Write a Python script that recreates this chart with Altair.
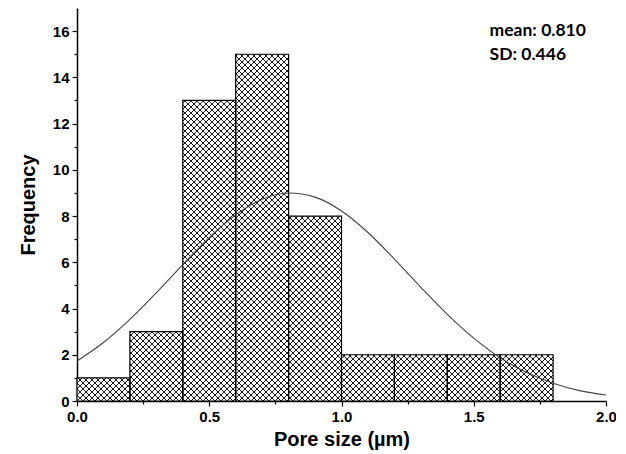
import altair as alt
import pandas as pd

# ---- data ----
bin_start = [0.0, 0.2, 0.4, 0.6, 0.8, 1.0, 1.2, 1.4, 1.6]
bin_width = 0.2
counts = [1, 3, 13, 15, 8, 2, 2, 2, 2]

curve_x = [0.0, 0.1, 0.2, 0.3, 0.4, 0.5, 0.6, 0.7, 0.8, 0.9, 1.0,
           1.1, 1.2, 1.3, 1.4, 1.5, 1.6, 1.7, 1.8, 1.9, 2.0]
curve_y = [1.73, 2.53, 3.53, 4.68, 5.90, 7.07, 8.05, 8.73, 9.00, 8.82, 8.22,
           7.29, 6.14, 4.92, 3.75, 2.72, 1.87, 1.23, 0.77, 0.45, 0.26]

stats_text = ["mean: 0.810", "SD: 0.446"]

x_major = [0.0, 0.5, 1.0, 1.5, 2.0]
x_minor = [0.25, 0.75, 1.25, 1.75]
y_major = [0, 2, 4, 6, 8, 10, 12, 14, 16]
y_minor = [1, 3, 5, 7, 9, 11, 13, 15]

X_DOMAIN = [0, 2.0]
Y_DOMAIN = [0, 17]
W, H = 529, 393

bars = pd.DataFrame({
    "x0": bin_start,
    "x1": [b + bin_width for b in bin_start],
    "count": counts,
})
curve = pd.DataFrame({"x": curve_x, "y": curve_y})
stats = pd.DataFrame({"x": [1.56, 1.56], "y": [16.0, 14.95], "t": stats_text})

# ---- cross-hatch fill (decoration derived from the bars) ----
sx = W / (X_DOMAIN[1] - X_DOMAIN[0])
sy = H / (Y_DOMAIN[1] - Y_DOMAIN[0])
period = 6.0
segs = []
for x0, x1, c in zip(bars["x0"], bars["x1"], bars["count"]):
    px0, px1, h = x0 * sx, x1 * sx, c * sy
    # slope +1 family: py = px + k
    k = -period * int(px1 / period + 1)
    while k <= h - px0:
        lo, hi = max(px0, -k), min(px1, h - k)
        if hi > lo:
            segs.append((lo / sx, (lo + k) / sy, hi / sx, (hi + k) / sy))
        k += period
    # slope -1 family: py = k - px
    k = 0.0
    while k <= px1 + h + period:
        lo, hi = max(px0, k - h), min(px1, k)
        if hi > lo:
            segs.append((lo / sx, (k - lo) / sy, hi / sx, (k - hi) / sy))
        k += period
hatch = pd.DataFrame(segs, columns=["xa", "ya", "xb", "yb"])

xs = alt.Scale(domain=X_DOMAIN, nice=False, zero=False)
ys = alt.Scale(domain=Y_DOMAIN, nice=False)

FONT = "Liberation Sans"

x_axis = alt.Axis(values=x_major, format=".1f", title="Pore size (µm)",
                  labelFont=FONT, labelFontSize=15, labelFontWeight="bold",
                  labelColor="black", titleFont=FONT, titleFontSize=20,
                  titleFontWeight="bold", titleColor="black", titlePadding=5,
                  tickSize=5, tickWidth=1.2, tickColor="black",
                  domainColor="black", domainWidth=1.5, grid=False,
                  labelPadding=3, labelFlush=False, orient="bottom")
y_axis = alt.Axis(values=y_major, format="d", title="Frequency",
                  labelFont=FONT, labelFontSize=15, labelFontWeight="bold",
                  labelColor="black", titleFont=FONT, titleFontSize=20,
                  titleFontWeight="bold", titleColor="black", titlePadding=14,
                  tickSize=5, tickWidth=1.2, tickColor="black",
                  domainColor="black", domainWidth=1.5, grid=False,
                  labelPadding=3, orient="left")

bg = alt.Chart(bars).mark_rect(fill="white", stroke=None).encode(
    x=alt.X("x0:Q", scale=xs, axis=x_axis),
    x2="x1:Q",
    y=alt.Y("count:Q", scale=ys, axis=y_axis),
    y2=alt.datum(0),
)

hatch_layer = alt.Chart(hatch).mark_rule(color="#1a1a1a", strokeWidth=1.0).encode(
    x=alt.X("xa:Q", scale=xs, axis=None),
    y=alt.Y("ya:Q", scale=ys, axis=None),
    x2="xb:Q",
    y2="yb:Q",
)

outline = alt.Chart(bars).mark_rect(fill=None, stroke="black", strokeWidth=1.2).encode(
    x=alt.X("x0:Q", scale=xs, axis=None),
    x2="x1:Q",
    y=alt.Y("count:Q", scale=ys, axis=None),
    y2=alt.datum(0),
)

line = alt.Chart(curve).mark_line(color="#444444", strokeWidth=1.1,
                                   interpolate="monotone").encode(
    x=alt.X("x:Q", scale=xs,
            axis=alt.Axis(values=x_minor, labels=False, title=None, tickSize=3,
                          tickWidth=1.2, tickColor="black", domain=False,
                          grid=False, orient="bottom")),
    y=alt.Y("y:Q", scale=ys,
            axis=alt.Axis(values=y_minor, labels=False, title=None, tickSize=3,
                          tickWidth=1.2, tickColor="black", domain=False,
                          grid=False, orient="left")),
)

text = alt.Chart(stats).mark_text(align="left", baseline="middle", font="Lato",
                                  fontSize=17.5, fontWeight="bold",
                                  color="black").encode(
    x=alt.X("x:Q", scale=xs, axis=None),
    y=alt.Y("y:Q", scale=ys, axis=None),
    text="t:N",
)

chart = alt.layer(bg, hatch_layer, outline, line, text).resolve_axis(
    x="independent", y="independent"
).properties(
    width=W, height=H,
    autosize=alt.AutoSizeParams(type="none"),
    padding={"left": 69, "top": 0, "right": 10, "bottom": 52},
    background="white",
).configure_view(stroke=None)

chart.save("out.html", embed_options={"renderer": "svg", "actions": False})
